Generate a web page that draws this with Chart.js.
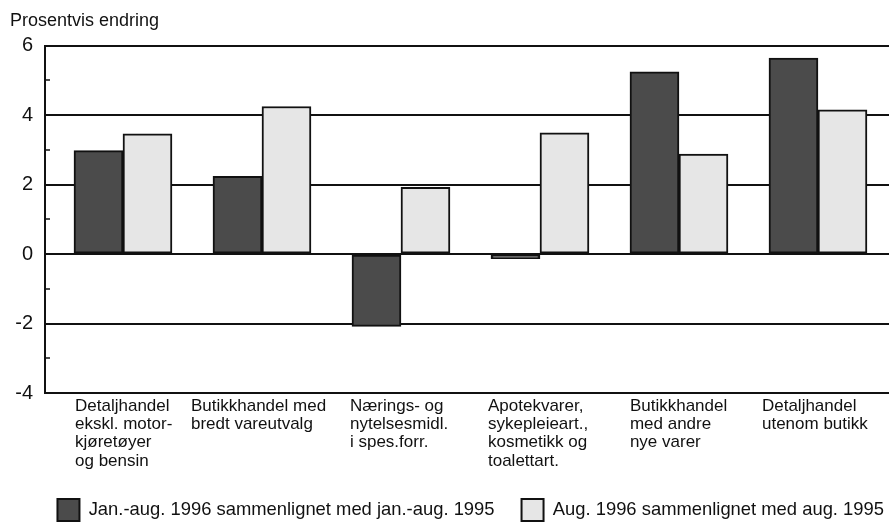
<!DOCTYPE html>
<html>
<head>
<meta charset="utf-8">
<script src="https://cdn.jsdelivr.net/npm/chart.js@4/dist/chart.umd.min.js"></script>
<style>
  html, body { margin: 0; padding: 0; background: #fff; }
</style>
</head>
<body>
<canvas id="salesChart" width="889" height="525"></canvas>
<script>
// data
const categories = [
  ["Detaljhandel", "ekskl. motor-", "kjøretøyer", "og bensin"],
  ["Butikkhandel med", "bredt vareutvalg"],
  ["Nærings- og", "nytelsesmidl.", "i spes.forr."],
  ["Apotekvarer,", "sykepleieart.,", "kosmetikk og", "toalettart."],
  ["Butikkhandel", "med andre", "nye varer"],
  ["Detaljhandel", "utenom butikk"],
];
const janAug = [2.98, 2.24, -2.08, -0.13, 5.25, 5.64];
const aug = [3.46, 4.25, 1.92, 3.49, 2.88, 4.15];
const seriesNames = [
  "Jan.-aug. 1996 sammenlignet med jan.-aug. 1995",
  "Aug. 1996 sammenlignet med aug. 1995",
];
const yTicks = [-4, -2, 0, 2, 4, 6];

// layout: where each label block starts, relative to its category
const labelStart = [-0.345, -0.511, -0.367, -0.374, -0.353, -0.403];
const FONT = "'Liberation Sans', Arial, Helvetica, sans-serif";
const INK = '#111';

const config = {
  type: 'bar',
  data: {
    datasets: [{
      label: seriesNames[0],
      data: janAug.map((v, i) => ({ x: i, y: v })),
      backgroundColor: '#4b4b4b',
      borderColor: INK,
      borderWidth: 2,
      borderSkipped: false,
      barThickness: 49,
    }, {
      label: seriesNames[1],
      data: aug.map((v, i) => ({ x: i, y: v })),
      backgroundColor: '#e6e6e6',
      borderColor: INK,
      borderWidth: 2,
      borderSkipped: false,
      barThickness: 49,
    }]
  },
  options: {
    responsive: false,
    animation: false,
    // legend runs a bit past the right edge, like the original
    layout: { padding: { left: 10, right: -22, top: 0, bottom: -6 } },
    plugins: {
      title: {
        display: true,
        text: 'Prosentvis endring',
        align: 'start',
        color: INK,
        font: { family: FONT, size: 18, weight: 'normal', lineHeight: 1.2 },
        padding: { top: 10.5, bottom: 13.6 },
      },
      legend: {
        position: 'bottom',
        align: 'end',
        labels: {
          boxWidth: 22,
          boxHeight: 22,
          padding: 27,
          color: INK,
          font: { family: FONT, size: 18.4 },
        }
      },
      tooltip: { enabled: false },
    },
    scales: {
      x: {
        type: 'linear',
        min: -0.561,
        max: 5.511,
        offset: false,
        grid: { display: false, drawTicks: false },
        border: { display: true, color: INK, width: 2 },
        afterBuildTicks: (scale) => {
          scale.ticks = categories.map((c, i) => ({ value: i + labelStart[i] }));
        },
        afterFit: (scale) => { scale.height = 79; },
        ticks: {
          align: 'start',
          padding: 4,
          maxRotation: 0,
          minRotation: 0,
          autoSkip: false,
          color: INK,
          font: { family: FONT, size: 17, lineHeight: 1.076 },
          callback: (v, i) => categories[i],
        }
      },
      y: {
        min: -4,
        max: 6,
        afterFit: (scale) => { scale.width = 35; },
        ticks: {
          stepSize: 1,
          padding: 17,
          color: INK,
          font: { family: FONT, size: 20 },
          callback: (v) => yTicks.includes(v) ? String(v) : '',
        },
        grid: {
          color: (ctx) => yTicks.includes(ctx.tick.value) ? INK : 'transparent',
          lineWidth: 2,
          tickLength: -5,
          tickColor: INK,
          tickWidth: 1.5,
        },
        border: { color: INK, width: 2 },
      }
    }
  }
};

// render init block
const salesChart = new Chart(document.getElementById("salesChart").getContext("2d"), config);
</script>
</body>
</html>
